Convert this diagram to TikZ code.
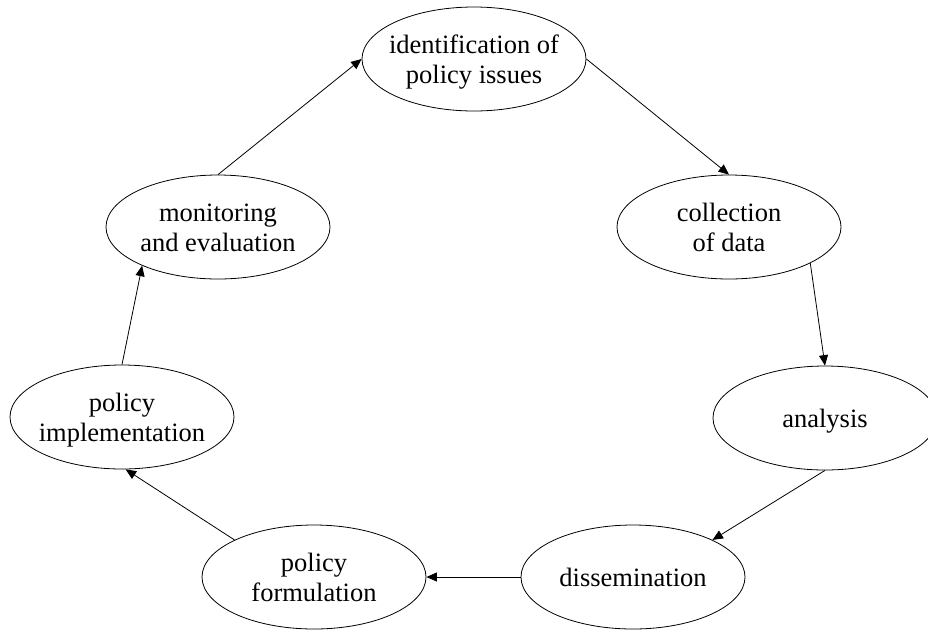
\documentclass[tikz,border=0pt]{standalone}
\usepackage{fontspec}
\setmainfont{Liberation Serif}
\usetikzlibrary{shapes.geometric,arrows.meta}
\newcommand{\ltxt}[1]{\makebox[0pt]{\raisebox{-3.5pt}[\height][\depth]{\begin{tabular}{@{}c@{}}#1\end{tabular}}}}
\begin{document}
\begin{tikzpicture}[x=1pt,y=-1pt,
  stage/.style={ellipse, draw, line width=0.8pt, minimum width=224pt, minimum height=104pt, inner sep=0pt, font=\fontsize{26.5}{30.5}\selectfont},
  flow/.style={line width=0.8pt, -{Triangle[length=10.5pt,width=9pt]}}]
\useasboundingbox (0,0) rectangle (928,630);
\node[stage] (id) at (474,59) {\ltxt{identification of\\policy issues}};
\node[stage] (col) at (729,227) {\ltxt{collection\\of data}};
\node[stage] (ana) at (825,418) {\ltxt{analysis}};
\node[stage] (dis) at (633,577) {\ltxt{dissemination}};
\node[stage] (form) at (314,577) {\ltxt{policy\\formulation}};
\node[stage] (impl) at (122,417) {\ltxt{policy\\implementation}};
\node[stage] (mon) at (218,227) {\ltxt{monitoring\\and evaluation}};
\draw[flow] (id.east) -- (col.north);
\draw[flow] (col.-24.5) -- (ana.north);
\draw[flow] (ana.south) -- (dis.25);
\draw[flow] (dis.west) -- (form.east);
\draw[flow] (form.155) -- (impl.-86);
\draw[flow] (impl.north) -- (mon.207);
\draw[flow] (mon.north) -- (id.west);
\end{tikzpicture}
\end{document}
